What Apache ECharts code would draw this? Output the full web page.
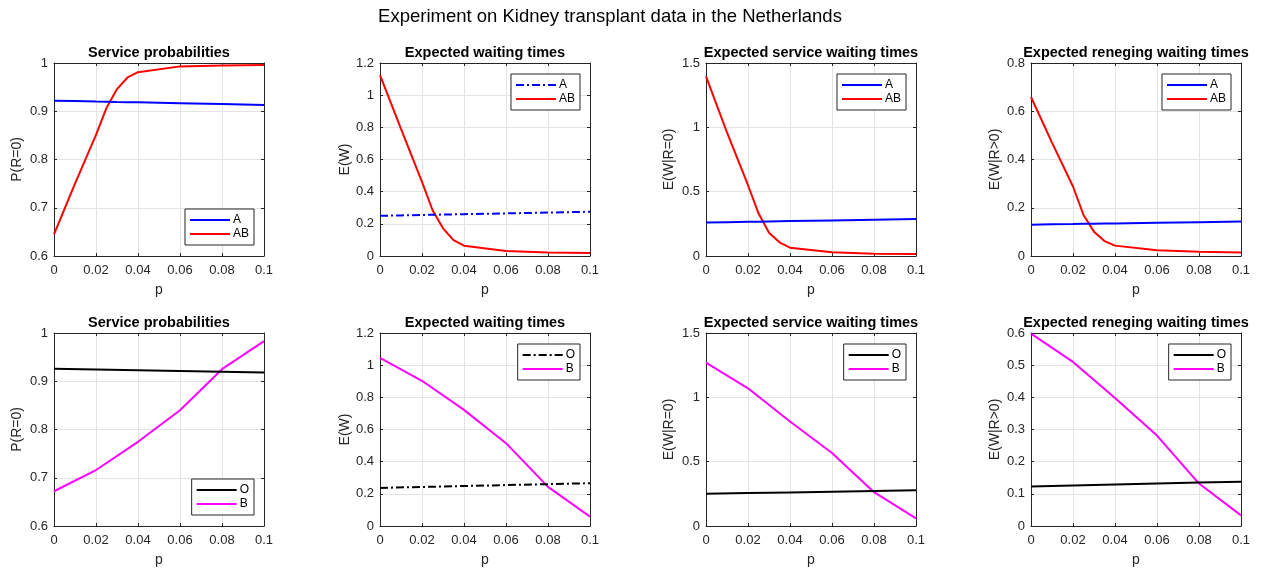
<!DOCTYPE html>
<html>
<head>
<meta charset="utf-8">
<script src="https://cdn.jsdelivr.net/npm/echarts@6/dist/echarts.min.js"></script>
<style>
html,body{margin:0;padding:0;background:#fff;}
#chart{width:1262px;height:569px;}
</style>
</head>
<body>
<div id="chart"></div>
<script>
// ---------------- DATA ----------------
const mainTitle = 'Experiment on Kidney transplant data in the Netherlands';
const panelTitles = ['Service probabilities', 'Expected waiting times', 'Expected service waiting times', 'Expected reneging waiting times'];
const yNames = ['P(R=0)', 'E(W)', 'E(W|R=0)', 'E(W|R>0)'];
const xName = 'p';

// top row x values (p)
const pTop = [0, 0.01, 0.02, 0.025, 0.03, 0.035, 0.04, 0.06, 0.08, 0.1];
// bottom row x values (p)
const pBottom = [0, 0.02, 0.04, 0.06, 0.08, 0.1];

// Top row: blood types A and AB
const A_P    = [0.922, 0.9211, 0.9202, 0.9198, 0.9193, 0.9189, 0.9184, 0.9166, 0.9148, 0.913];
const AB_P   = [0.645, 0.750, 0.851, 0.907, 0.946, 0.970, 0.981, 0.993, 0.995, 0.996];
const A_W    = [0.250, 0.2525, 0.255, 0.2563, 0.2575, 0.2588, 0.260, 0.265, 0.270, 0.275];
const AB_W   = [1.124, 0.790, 0.461, 0.286, 0.172, 0.099, 0.064, 0.031, 0.021, 0.019];
const A_WR0  = [0.260, 0.2628, 0.2656, 0.267, 0.2684, 0.2698, 0.2712, 0.2768, 0.2824, 0.288];
const AB_WR0 = [1.396, 0.960, 0.550, 0.332, 0.180, 0.106, 0.065, 0.029, 0.018, 0.016];
const A_WRp  = [0.130, 0.1313, 0.1325, 0.1332, 0.1338, 0.1344, 0.135, 0.1376, 0.1401, 0.1426];
const AB_WRp = [0.659, 0.470, 0.288, 0.170, 0.101, 0.062, 0.043, 0.024, 0.018, 0.015];

// Bottom row: blood types O and B
const O_P    = [0.926, 0.9244, 0.9228, 0.9212, 0.9196, 0.918];
const B_P    = [0.672, 0.716, 0.7745, 0.840, 0.925, 0.983];
const O_W    = [0.237, 0.2428, 0.2486, 0.2544, 0.2602, 0.266];
const B_W    = [1.045, 0.903, 0.722, 0.515, 0.243, 0.058];
const O_WR0  = [0.250, 0.2556, 0.2612, 0.2668, 0.2724, 0.278];
const B_WR0  = [1.270, 1.070, 0.812, 0.567, 0.263, 0.059];
const O_WRp  = [0.123, 0.126, 0.129, 0.132, 0.135, 0.1376];
const B_WRp  = [0.598, 0.510, 0.398, 0.281, 0.132, 0.033];

// y-axis ranges per panel [min, max, interval]
const yRangesTop    = [[0.6, 1, 0.1], [0, 1.2, 0.2], [0, 1.5, 0.5], [0, 0.8, 0.2]];
const yRangesBottom = [[0.6, 1, 0.1], [0, 1.2, 0.2], [0, 1.5, 0.5], [0, 0.6, 0.1]];
const xRange = [0, 0.1, 0.02];

// ---------------- LAYOUT / STYLE ----------------
const FONT = '"Liberation Sans", Arial, Helvetica, sans-serif';
const TXT = '#262626';
const gridLefts = [54, 380, 706, 1031];
const gridTops = [63, 333];
const GW = 210, GH = 193;
const yNameGaps = [30, 28, 30, 29];

const panels = [
  // top row
  {row:0,col:0,x:pTop,s:[{n:'A',d:A_P,c:'#0000ff',dash:'solid'},{n:'AB',d:AB_P,c:'#ff0000',dash:'solid'}],legendPos:'br'},
  {row:0,col:1,x:pTop,s:[{n:'A',d:A_W,c:'#0000ff',dash:[8,3,2,3]},{n:'AB',d:AB_W,c:'#ff0000',dash:'solid'}],legendPos:'tr'},
  {row:0,col:2,x:pTop,s:[{n:'A',d:A_WR0,c:'#0000ff',dash:'solid'},{n:'AB',d:AB_WR0,c:'#ff0000',dash:'solid'}],legendPos:'tr'},
  {row:0,col:3,x:pTop,s:[{n:'A',d:A_WRp,c:'#0000ff',dash:'solid'},{n:'AB',d:AB_WRp,c:'#ff0000',dash:'solid'}],legendPos:'tr'},
  // bottom row
  {row:1,col:0,x:pBottom,s:[{n:'O',d:O_P,c:'#000000',dash:'solid'},{n:'B',d:B_P,c:'#ff00ff',dash:'solid'}],legendPos:'br'},
  {row:1,col:1,x:pBottom,s:[{n:'O',d:O_W,c:'#000000',dash:[8,3,2,3]},{n:'B',d:B_W,c:'#ff00ff',dash:'solid'}],legendPos:'tr'},
  {row:1,col:2,x:pBottom,s:[{n:'O',d:O_WR0,c:'#000000',dash:'solid'},{n:'B',d:B_WR0,c:'#ff00ff',dash:'solid'}],legendPos:'tr'},
  {row:1,col:3,x:pBottom,s:[{n:'O',d:O_WRp,c:'#000000',dash:'solid'},{n:'B',d:B_WRp,c:'#ff00ff',dash:'solid'}],legendPos:'tr'}
];

const option = {
  backgroundColor: '#ffffff',
  animation: false,
  textStyle: {fontFamily: FONT},
  title: [], grid: [], xAxis: [], yAxis: [], series: [], legend: []
};

option.title.push({
  text: mainTitle, left: 610, top: 7, textAlign: 'center', padding: 0,
  textStyle: {fontFamily: FONT, fontSize: 18.5, fontWeight: 'normal', color: '#000'}
});

panels.forEach((pn, i) => {
  const left = gridLefts[pn.col];
  const top = gridTops[pn.row];
  const yr = (pn.row === 0 ? yRangesTop : yRangesBottom)[pn.col];
  option.title.push({
    text: panelTitles[pn.col], left: left + GW / 2, top: top - 18, textAlign: 'center', padding: 0,
    textStyle: {fontFamily: FONT, fontSize: 14.5, fontWeight: 'bold', color: '#000'}
  });
  option.grid.push({left: left, top: top, width: GW, height: GH, show: false});

  const common = {
    type: 'value', gridIndex: i,
    axisLine: {show: true, onZero: false, lineStyle: {color: TXT, width: 1}},
    axisTick: {show: true, inside: true, length: 3, lineStyle: {color: TXT}},
  };
  // bottom x
  option.xAxis.push(Object.assign({}, common, {
    position: 'bottom', min: xRange[0], max: xRange[1], interval: xRange[2],
    name: xName, nameLocation: 'middle', nameGap: 27,
    nameTextStyle: {fontFamily: FONT, fontSize: 14, color: TXT},
    axisLabel: {fontFamily: FONT, fontSize: 13, color: TXT, margin: 8},
    splitLine: {show: true, lineStyle: {color: '#e3e3e3', width: 1}}
  }));
  // top x (box + ticks)
  option.xAxis.push(Object.assign({}, common, {
    position: 'top', min: xRange[0], max: xRange[1], interval: xRange[2],
    axisLabel: {show: false}, splitLine: {show: false}
  }));
  // left y
  option.yAxis.push(Object.assign({}, common, {
    position: 'left', min: yr[0], max: yr[1], interval: yr[2],
    name: yNames[pn.col], nameLocation: 'middle', nameGap: yNameGaps[pn.col],
    nameTextStyle: {fontFamily: FONT, fontSize: 14, color: TXT},
    axisLabel: {fontFamily: FONT, fontSize: 13, color: TXT, margin: 6},
    splitLine: {show: true, lineStyle: {color: '#e3e3e3', width: 1}}
  }));
  // right y
  option.yAxis.push(Object.assign({}, common, {
    position: 'right', min: yr[0], max: yr[1], interval: yr[2],
    axisLabel: {show: false}, splitLine: {show: false}
  }));

  const names = [];
  pn.s.forEach(s => {
    const nm = s.n + '#' + i;
    names.push(nm);
    option.series.push({
      type: 'line', name: nm, xAxisIndex: 2 * i, yAxisIndex: 2 * i,
      data: pn.x.map((xv, k) => [xv, s.d[k]]),
      symbol: 'none', showSymbol: false, smooth: false,
      lineStyle: {color: s.c, width: 2, type: s.dash},
      itemStyle: {color: s.c},
      z: s.n === 'A' || s.n === 'O' ? 3 : 2
    });
  });

  const gridRight = 1262 - (left + GW);
  const leg = {
    data: names,
    orient: 'vertical',
    right: gridRight + 10,
    itemWidth: 40, itemHeight: 12, itemGap: 2,
    padding: [5, 5, 5, 4],
    backgroundColor: '#ffffff',
    borderColor: '#262626', borderWidth: 1, borderRadius: 0,
    selectedMode: false,
    itemStyle: {opacity: 0, borderWidth: 0},
    formatter: (name) => name.split('#')[0],
    textStyle: {fontFamily: FONT, fontSize: 12, color: '#000', padding: [0, 0, 0, -2]}
  };
  if (pn.legendPos === 'tr') leg.top = top + 11;
  else leg.top = top + GH - 11 - 36;
  option.legend.push(leg);
});

const chart = echarts.init(document.getElementById('chart'), null, {renderer: 'canvas'});
chart.setOption(option);
</script>
</body>
</html>
